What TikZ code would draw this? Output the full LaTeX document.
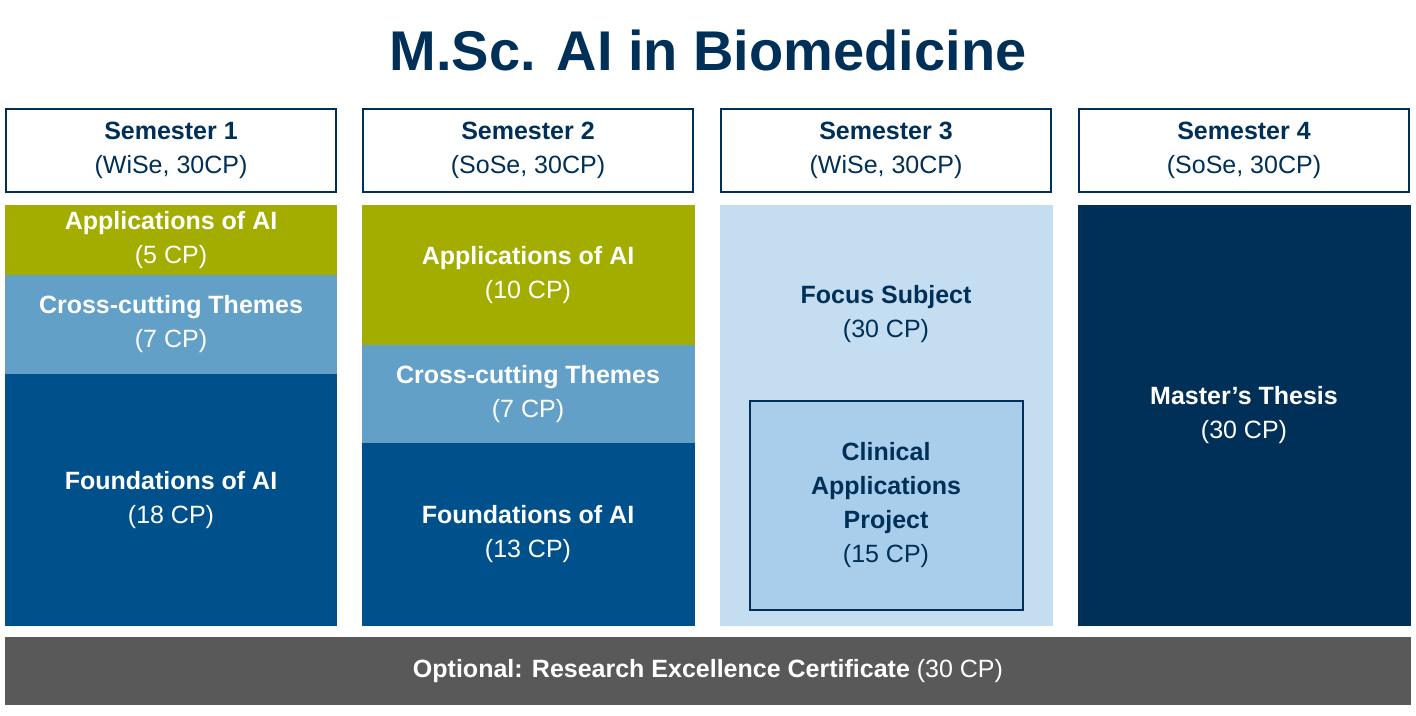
\documentclass[tikz,border=0pt]{standalone}
\usepackage{fontspec}
\setmainfont{Liberation Sans}
\usetikzlibrary{positioning}
\definecolor{navy}{HTML}{003057}
\definecolor{aigreen}{HTML}{A3AD00}
\definecolor{midblue}{HTML}{63A0C8}
\definecolor{aiblue}{HTML}{00508C}
\definecolor{paleblue}{HTML}{C4DDF1}
\definecolor{projblue}{HTML}{A9CEEB}
\definecolor{bargray}{HTML}{595959}
\tikzset{
  block/.style={rectangle, inner sep=0pt, align=center, text=white, font=\fontsize{25}{34}\selectfont},
  head/.style={block, draw=navy, line width=2pt, fill=white, text=navy, minimum width=330pt, minimum height=83pt},
}
\begin{document}
\begin{tikzpicture}[x=1pt,y=-1pt]
\useasboundingbox (0,0) rectangle (1416,715);
\node[font=\bfseries\fontsize{56}{60}\selectfont, text=navy] (title) at (708,50) {M.Sc. AI in Biomedicine};

% semester headers
\node[head] (h1) at (171,150) {\textbf{Semester 1}\\(WiSe, 30CP)};
\node[head] (h2) at (528,150) {\textbf{Semester 2}\\(SoSe, 30CP)};
\node[head] (h3) at (886,150) {\textbf{Semester 3}\\(WiSe, 30CP)};
\node[head] (h4) at (1244,150) {\textbf{Semester 4}\\(SoSe, 30CP)};

% semester 1
\node[block, fill=aigreen, minimum width=332pt, minimum height=70pt] (app1) at (171,240) {\textbf{Applications of AI}\\(5 CP)};
\node[block, fill=midblue, minimum width=332pt, minimum height=99pt] (cross1) at (171,324.5) {\textbf{Cross-cutting Themes}\\(7 CP)};
\node[block, fill=aiblue, minimum width=332pt, minimum height=252pt] (found1) at (171,500) {\textbf{Foundations of AI}\\(18 CP)};

% semester 2
\node[block, fill=aigreen, minimum width=333pt, minimum height=140pt] (app2) at (528,275) {\textbf{Applications of AI}\\(10 CP)};
\node[block, fill=midblue, minimum width=333pt, minimum height=98pt] (cross2) at (528,394) {\textbf{Cross-cutting Themes}\\(7 CP)};
\node[block, fill=aiblue, minimum width=333pt, minimum height=183pt] (found2) at (528,534.5) {\textbf{Foundations of AI}\\(13 CP)};

% semester 3
\node[block, fill=paleblue, minimum width=333pt, minimum height=421pt] (focus) at (886,415.5) {};
\node[block, text=navy] (focustxt) at (886,314) {\textbf{Focus Subject}\\(30 CP)};
\node[block, fill=projblue, draw=navy, line width=2pt, text=navy, minimum width=273pt, minimum height=209pt] (proj) at (886,505.5) {\textbf{Clinical}\\\textbf{Applications}\\\textbf{Project}\\(15 CP)};

% semester 4
\node[block, fill=navy, minimum width=333pt, minimum height=421pt] (thesis) at (1244,415.5) {\textbf{Master’s Thesis}\\(30 CP)};

% certificate bar
\node[block, fill=bargray, minimum width=1406pt, minimum height=68pt] (cert) at (708,671) {\textbf{Optional: Research Excellence Certificate} (30 CP)};
\end{tikzpicture}
\end{document}
